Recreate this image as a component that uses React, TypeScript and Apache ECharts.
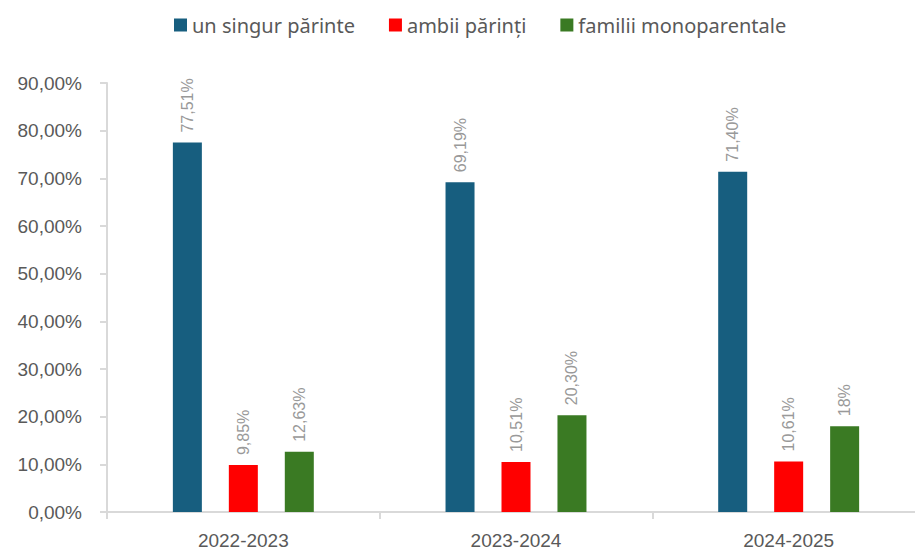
import React, { useEffect, useRef } from "react";
import * as echarts from "echarts";

const categories = ["2022-2023", "2023-2024", "2024-2025"];
const seriesNames = ["un singur părinte", "ambii părinți", "familii monoparentale"];
const singurParinte = [77.51, 69.19, 71.4];
const ambiiParinti = [9.85, 10.51, 10.61];
const monoparentale = [12.63, 20.3, 18];
const singurLabels = ["77,51%", "69,19%", "71,40%"];
const ambiiLabels = ["9,85%", "10,51%", "10,61%"];
const monoLabels = ["12,63%", "20,30%", "18%"];
const colors = ["#175e7f", "#ff0000", "#3a7a23"];
const yTicks = [0, 10, 20, 30, 40, 50, 60, 70, 80, 90];

export default function App() {
  const ref = useRef<HTMLDivElement>(null);
  useEffect(() => {
    document.body.style.overflow = "hidden";
    const chart = echarts.init(ref.current!, null, { renderer: "svg" });
    const mk = (name: string, data: number[], labels: string[], color: string) => ({
      name,
      type: "bar",
      data,
      barWidth: 29,
      barGap: "93%",
      itemStyle: { color },
      label: {
        show: true,
        position: "top",
        rotate: 90,
        align: "left",
        verticalAlign: "middle",
        distance: 10,
        color: "#999999",
        fontFamily: "Liberation Sans, Arial, sans-serif",
        fontSize: 16,
        formatter: (p: any) => labels[p.dataIndex],
      },
    });
    chart.setOption({
      animation: false,
      color: colors,
      legend: {
        data: seriesNames,
        top: 10,
        left: 169,
        itemWidth: 13,
        itemHeight: 13,
        itemGap: 34,
        icon: "rect",
        textStyle: { color: "#595959", fontSize: 20, fontFamily: "Noto Sans, sans-serif" },
      },
      grid: { left: 107, width: 818, top: 83, bottom: 38, containLabel: false },
      xAxis: {
        type: "category",
        data: categories,
        axisLine: { lineStyle: { color: "#d9d9d9", width: 2 } },
        axisTick: { show: true, alignWithLabel: false, length: 7, lineStyle: { color: "#d9d9d9", width: 2 } },
        axisLabel: {
          color: "#595959",
          fontSize: 19,
          margin: 19,
          fontFamily: "Liberation Sans, Arial, sans-serif",
        },
      },
      yAxis: {
        type: "value",
        min: yTicks[0],
        max: yTicks[yTicks.length - 1],
        interval: 10,
        splitLine: { show: false },
        axisLine: { show: true, lineStyle: { color: "#d9d9d9", width: 2 } },
        axisTick: { show: true, length: 7, lineStyle: { color: "#d9d9d9", width: 2 } },
        axisLabel: {
          color: "#595959",
          fontSize: 19,
          margin: 25,
          fontFamily: "Liberation Sans, Arial, sans-serif",
          formatter: (v: number) => v.toFixed(2).replace(".", ",") + "%",
        },
      },
      series: [
        mk(seriesNames[0], singurParinte, singurLabels, colors[0]),
        mk(seriesNames[1], ambiiParinti, ambiiLabels, colors[1]),
        mk(seriesNames[2], monoparentale, monoLabels, colors[2]),
      ],
    });
    return () => chart.dispose();
  }, []);
  return <div ref={ref} style={{ width: 925, height: 550, position: "absolute", left: 0, top: 0 }} />;
}
